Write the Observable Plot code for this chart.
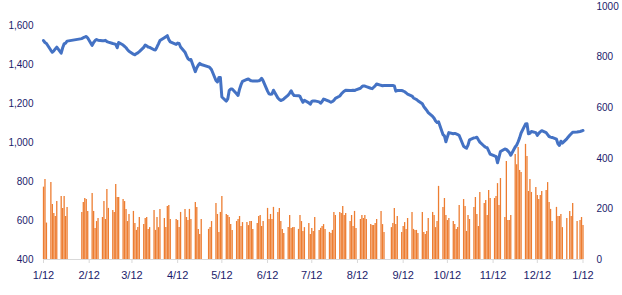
<!DOCTYPE html>
<html>
<head>
<meta charset="utf-8">
<script src="https://cdn.jsdelivr.net/npm/d3@7"></script>
<script src="https://cdn.jsdelivr.net/npm/@observablehq/plot@0.6"></script>
<style>
  html, body { margin: 0; padding: 0; background: #ffffff; }
  #chart { width: 622px; height: 295px; }
</style>
</head>
<body>
<div id="chart"></div>
<script>
// ---- data ----
const firstDay = "2012-01-04";
const lastDay = "2013-01-04";
// weekdays without a data point (no bar) in the reference
const closedDays = [
  "2012-01-23", "2012-01-24", "2012-01-25", "2012-01-26", "2012-01-27",
  "2012-04-02", "2012-04-23", "2012-04-24",
  "2012-08-23", "2012-08-24",
  "2012-12-25", "2013-01-01"
];
const tickDates = [
  "2012-01-04", "2012-02-04", "2012-03-04", "2012-04-04", "2012-05-04", "2012-06-04", "2012-07-04",
  "2012-08-04", "2012-09-04", "2012-10-04", "2012-11-04", "2012-12-04", "2013-01-04"
];
const tickLabels = ["1/12", "2/12", "3/12", "4/12", "5/12", "6/12", "7/12", "8/12", "9/12", "10/12", "11/12", "12/12", "1/12"];
const leftDomain = [400, 1700];
const rightDomain = [0, 1000];
const leftTicks = [400, 600, 800, 1000, 1200, 1400, 1600];
const rightTicks = [0, 200, 400, 600, 800, 1000];

// closing level (left axis), one per trading day, grouped by week
const price = [
  1525, 1515, 1510, 1475, 1465, 1472, 1482, 1491, 1460, 1488, 1508, 1512, 1522,
  1535, 1540, 1543, 1546, 1538,
  1500, 1515, 1525, 1530, 1527,
  1524, 1524, 1526, 1520, 1517,
  1510, 1508, 1505, 1488, 1515,
  1502, 1495, 1488, 1478, 1470,
  1455, 1452, 1458, 1462, 1468,
  1490, 1502, 1498, 1492, 1490,
  1478, 1477, 1492, 1508, 1525,
  1540, 1545, 1550, 1530, 1518,
  1505, 1512, 1510, 1492,
  1465, 1448, 1432, 1425, 1428,
  1365, 1385, 1398, 1408, 1402,
  1390, 1385, 1375,
  1320, 1312, 1335, 1335, 1235,
  1214, 1225, 1268, 1276, 1276,
  1252, 1243, 1275, 1298, 1315,
  1325, 1328, 1322, 1318, 1317,
  1317, 1318, 1322, 1331, 1318,
  1265, 1251, 1249, 1250, 1270,
  1230, 1222, 1217, 1220, 1225,
  1245, 1255, 1267, 1252, 1243,
  1242, 1238, 1222, 1208, 1218,
  1205, 1198, 1212, 1215, 1215,
  1210, 1203, 1212, 1224, 1222,
  1212, 1208, 1212, 1218, 1228,
  1240, 1250, 1258, 1265, 1270,
  1268, 1268, 1270, 1268, 1272,
  1280, 1288, 1292, 1291, 1288,
  1280, 1278, 1285, 1292, 1302,
  1295, 1293, 1294,
  1294, 1294, 1292, 1265, 1268,
  1268, 1266, 1262, 1256, 1250,
  1240, 1230, 1226, 1222, 1216,
  1200, 1186, 1176, 1166, 1155,
  1135, 1126, 1112, 1104, 1108,
  1042, 1035, 1005, 1030, 1052,
  1046, 1048, 1045, 1042, 1037,
  982, 976, 972, 988, 1015,
  1025, 1026, 1028, 1015, 1003,
  982, 976, 974, 958, 942,
  932, 930, 897, 925, 955,
  968, 966, 958, 950, 936,
  978, 988, 1005, 1025, 1050,
  1096, 1098, 1046, 1048, 1058,
  1052, 1038, 1048, 1056, 1062,
  1052, 1042, 1032, 1029, 1027,
  1018, 995, 986, 1008, 998,
  1020, 1038, 1046, 1054,
  1055, 1058, 1060, 1063
];

// volume (right axis), one per trading day, grouped by week
const volume = [
  286, 316, 144, 304, 217, 182, 170, 229, 249, 202, 249, 170, 206,
  186, 225, 241, 237, 190,
  261, 190, 123, 150, 162,
  166, 229, 158, 277, 202,
  194, 186, 296, 245, 245,
  237, 229, 198, 150, 178,
  190, 142, 115, 126, 166,
  138, 162, 166, 119, 126,
  194, 115, 166, 126, 198,
  162, 126, 209, 213, 158,
  158, 154, 126, 186,
  198, 166, 154, 198, 158,
  225, 206, 119, 99, 158,
  119, 126, 150,
  221, 178, 107, 186, 249,
  178, 174, 166, 138, 115,
  150, 158, 170, 130, 146,
  146, 134, 150, 150, 119,
  142, 170, 174, 130, 150,
  202, 158, 178, 158, 206,
  186, 202, 150, 119, 103,
  126, 174, 123, 126, 126,
  119, 174, 150, 111, 126,
  142, 99, 123, 111, 166,
  115, 123, 130, 138, 119,
  107, 103, 115, 186, 174,
  186, 182, 209, 174, 182,
  150, 174, 130, 190, 123,
  158, 174, 162, 174, 158,
  138, 134, 134, 142, 158,
  190, 138, 107,
  126, 142, 202, 138, 170,
  107, 130, 146, 119, 162,
  186, 119, 115, 115, 103,
  186, 107, 99, 111, 162,
  186, 174, 126, 150, 289,
  206, 241, 174, 154, 162,
  150, 138, 119, 126, 213,
  237, 209, 111, 174, 158,
  206, 245, 178, 130, 265,
  221, 233, 174, 273, 241,
  241, 249, 300, 213, 320,
  166, 387, 154, 154, 174,
  415, 375, 443, 352, 344,
  455, 407, 269, 316, 265,
  285, 253, 237, 253, 269,
  273, 304, 225, 198, 150,
  206, 170, 170, 178, 126,
  162, 190, 170, 221,
  150, 154, 166, 134
];

// ---- build the trading-day table ----
const closed = new Set(closedDays);
const days = [];
for (let t = Date.parse(firstDay); t <= Date.parse(lastDay); t += 864e5) {
  const d = new Date(t);
  const wd = d.getUTCDay();
  if (wd !== 0 && wd !== 6 && !closed.has(d.toISOString().slice(0, 10))) days.push(d);
}
if (days.length !== price.length || days.length !== volume.length) {
  console.error("length mismatch", days.length, price.length, volume.length);
}
const rows = days.map((date, i) => ({date, price: price[i], vol: volume[i]}));

// secondary (right) axis expressed in the primary y scale
const k = (leftDomain[1] - leftDomain[0]) / (rightDomain[1] - rightDomain[0]);
const toLeft = v => leftDomain[0] + (v - rightDomain[0]) * k;
const fromLeft = y => rightDomain[0] + (y - leftDomain[0]) / k;

const tickTimes = tickDates.map(s => Date.parse(s));
const xLabel = d => {
  const i = tickTimes.indexOf(+d);
  return i >= 0 ? tickLabels[i] : "";
};

const navy = "#1b1b6b";
const chart = Plot.plot({
  width: 622,
  height: 295,
  marginLeft: 43,
  marginRight: 39.5,
  marginTop: 6,
  marginBottom: 36,
  style: {fontFamily: "'Liberation Sans', Arial, sans-serif", fontSize: "10px", background: "#ffffff", color: navy},
  x: {type: "utc", domain: [new Date(firstDay), new Date(lastDay)], label: null},
  y: {domain: leftDomain, label: null},
  marks: [
    Plot.ruleX(rows, {x: "date", y1: toLeft(0), y2: d => toLeft(d.vol), stroke: "#ed7d31", strokeWidth: 1.3}),
    Plot.ruleY([toLeft(0)], {stroke: "#d9d9d9", strokeWidth: 1}),
    Plot.line(rows, {x: "date", y: "price", stroke: "#4472c4", strokeWidth: 3, strokeLinejoin: "round", strokeLinecap: "round"}),
    Plot.axisY({anchor: "left", ticks: leftTicks, tickSize: 0, tickPadding: 10, tickFormat: d3.format(","), fill: navy, label: null}),
    Plot.axisY({anchor: "right", ticks: rightTicks.map(toLeft), tickSize: 0, tickPadding: 13.5, tickFormat: y => String(Math.round(fromLeft(y))), fill: navy, label: null}),
    Plot.axisX({ticks: tickDates.map(s => new Date(s)), tickSize: 4, tickPadding: 8, stroke: "#d9d9d9", fill: navy, fontSize: 11, tickFormat: xLabel, label: null})
  ]
});
document.getElementById("chart").appendChild(chart);
</script>
</body>
</html>
